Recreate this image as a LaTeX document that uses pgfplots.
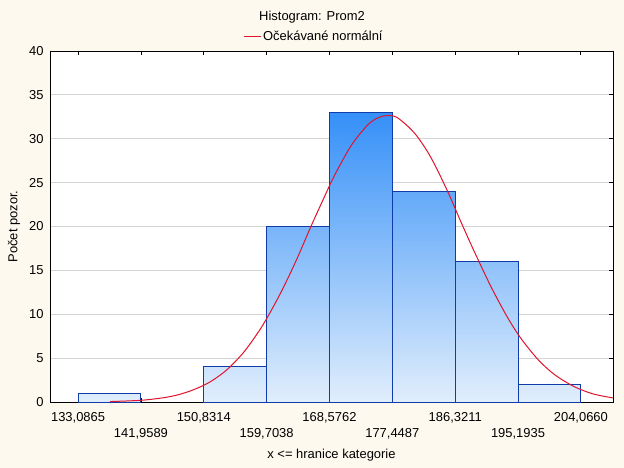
\documentclass[border=0pt]{standalone}
\usepackage{fontspec}
\setmainfont{Liberation Sans}
\usepackage{pgfplots}
\pgfplotsset{compat=1.18}

\definecolor{bgcol}{RGB}{253,249,238}
\definecolor{baredge}{RGB}{16,60,170}
\definecolor{barhi}{RGB}{53,144,248}
\definecolor{barlo}{RGB}{225,238,252}
\definecolor{curvered}{RGB}{225,20,45}
\definecolor{gridgray}{RGB}{212,212,212}

\newcommand\fs{\fontsize{13}{15}\selectfont}

\begin{document}
\fs
\begin{tikzpicture}
\fill[bgcol] (-50bp,-66bp) rectangle (574bp,402bp);
\begin{axis}[
    at={(0,0)}, anchor=south west,
    scale only axis, width=563bp, height=351bp,
    xmin=129.12, xmax=208.6, ymin=0, ymax=40,
    axis background/.style={fill=white},
    axis line style={black, line width=0.9bp},
    xtick={133.0865,150.8314,168.5762,186.3211,204.0660},
    xticklabels={{133,0865},{150,8314},{168,5762},{186,3211},{204,0660}},
    extra x ticks={141.9589,159.7038,177.4487,195.1935},
    extra x tick labels={{141,9589},{159,7038},{177,4487},{195,1935}},
    extra x tick style={tick label style={yshift=-16bp}},
    xticklabel style={yshift=-6bp},
    ytick={0,5,...,40},
    ytick pos=right, yticklabel pos=left,
    yticklabel style={xshift=-2bp},
    ymajorgrids,
    grid style={draw=gridgray, line width=0.8bp},
    tick align=inside,
    major tick length=4bp,
    tick style={black, line width=0.8bp},
    /pgf/number format/assume math mode=true,
    title={Histogram: Prom2},
    title style={at={(0.4654,1.078)}, anchor=center},
    xlabel={x <= hranice kategorie},
    xlabel style={at={(axis description cs:0.5,-0.151)}, anchor=center},
    ylabel={Počet pozor.},
    ylabel style={at={(axis description cs:-0.064,0.5)}, anchor=center, rotate=0},
    legend style={draw=none, fill=none, at={(0.4686,1.042)}, anchor=center},
]
\addplot[ybar interval, forget plot, draw=baredge, line width=1bp,
    bottom color=barlo, top color=barhi!3!barlo] coordinates {(133.0865,1) (141.9589,1)};
\addplot[ybar interval, forget plot, draw=baredge, line width=1bp,
    bottom color=barlo, top color=barhi!12!barlo] coordinates {(150.8314,4) (159.7038,4)};
\addplot[ybar interval, forget plot, draw=baredge, line width=1bp,
    bottom color=barlo, top color=barhi!61!barlo] coordinates {(159.7038,20) (168.5762,20)};
\addplot[ybar interval, forget plot, draw=baredge, line width=1bp,
    bottom color=barlo, top color=barhi!100!barlo] coordinates {(168.5762,33) (177.4487,33)};
\addplot[ybar interval, forget plot, draw=baredge, line width=1bp,
    bottom color=barlo, top color=barhi!73!barlo] coordinates {(177.4487,24) (186.3211,24)};
\addplot[ybar interval, forget plot, draw=baredge, line width=1bp,
    bottom color=barlo, top color=barhi!48!barlo] coordinates {(186.3211,16) (195.1935,16)};
\addplot[ybar interval, forget plot, draw=baredge, line width=1bp,
    bottom color=barlo, top color=barhi!6!barlo] coordinates {(195.1935,2) (204.0660,2)};

\addplot[curvered, line width=1bp, smooth] coordinates {
    (137.6,0.05) (141.9,0.19) (145.0,0.47) (147.1,0.8) (149.4,1.4)
    (151.7,2.28) (154.1,3.68) (156.5,5.7) (158.8,8.3) (160.4,10.5)
    (162.1,13.1) (164.0,16.35) (165.9,19.9) (167.5,22.75) (169.3,25.85)
    (171.7,29.3) (174.0,31.6) (175.5,32.42) (176.8,32.65) (178.2,32.38)
    (180.6,30.62) (182.8,28.0) (185.2,24.1) (187.2,20.4) (189.1,17.0)
    (191.4,13.1) (193.7,9.65) (195.6,7.25) (198.0,4.85) (200.3,3.15)
    (203.0,1.8) (205.8,0.92) (208.9,0.42)
};
\addlegendentry{Očekávané normální}
\end{axis}
\pgfresetboundingbox
\path[use as bounding box] (-50bp,-66bp) rectangle (574bp,402bp);
\end{tikzpicture}
\end{document}
